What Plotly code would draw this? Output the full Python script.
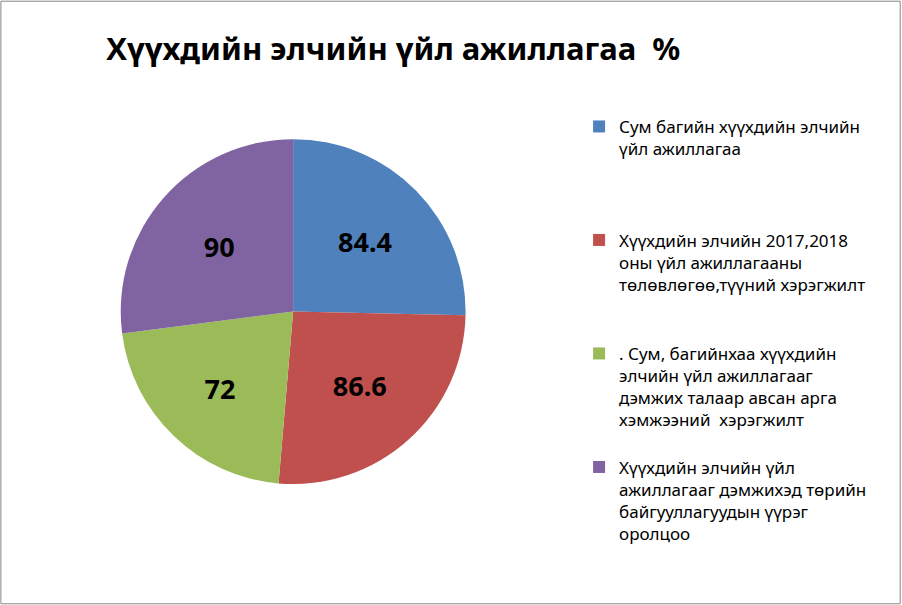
import plotly.graph_objects as go

labels = [
    'Сум багийн хүүхдийн элчийн<br>үйл ажиллагаа<br> <br> <br> ',
    'Хүүхдийн элчийн 2017,2018<br>оны үйл ажиллагааны<br>төлөвлөгөө,түүний хэрэгжилт<br> <br> ',
    '. Сум, багийнхаа хүүхдийн<br>элчийн үйл ажиллагааг<br>дэмжих талаар авсан арга<br>хэмжээний  хэрэгжилт<br> ',
    'Хүүхдийн элчийн үйл<br>ажиллагааг дэмжихэд төрийн<br>байгууллагуудын үүрэг<br>оролцоо',
]
values = [84.4, 86.6, 72, 90]
colors = ['#4F81BD', '#C0504D', '#9BBB59', '#8064A2']

fig = go.Figure()
fig.add_trace(go.Pie(
    labels=labels,
    values=values,
    sort=False,
    direction='clockwise',
    rotation=0,
    marker=dict(colors=colors, line=dict(width=0)),
    textinfo='value',
    textposition='inside',
    insidetextorientation='horizontal',
    textfont=dict(size=27, color='black', family='Noto Sans'),
    texttemplate='<b>%{value}</b>',
    hoverinfo='label+value',
    domain=dict(x=[0.04, 0.61], y=[0.2, 0.77]),
))

fig.update_layout(
    width=902,
    height=605,
    paper_bgcolor='white',
    plot_bgcolor='white',
    margin=dict(l=0, r=0, t=0, b=0),
    font=dict(family='Noto Sans', color='black'),
    title=dict(
        text='<b>Хүүхдийн элчийн үйл ажиллагаа  %</b>',
        x=0.436, xanchor='center',
        y=0.918, yanchor='middle',
        font=dict(size=31, family='Noto Sans', color='black'),
    ),
    legend=dict(
        x=0.642, y=0.82,
        xanchor='left', yanchor='top',
        valign='top',
        font=dict(size=17, color='black'),
        itemsizing='constant',
        traceorder='normal',
    ),
    shapes=[dict(
        type='rect', xref='paper', yref='paper',
        x0=0.001, y0=0.002, x1=0.998, y1=0.998,
        line=dict(color='#868686', width=1),
    )],
)

fig.write_html("out.html", config={'displayModeBar': False},
               post_script="document.body.style.margin='0';")
